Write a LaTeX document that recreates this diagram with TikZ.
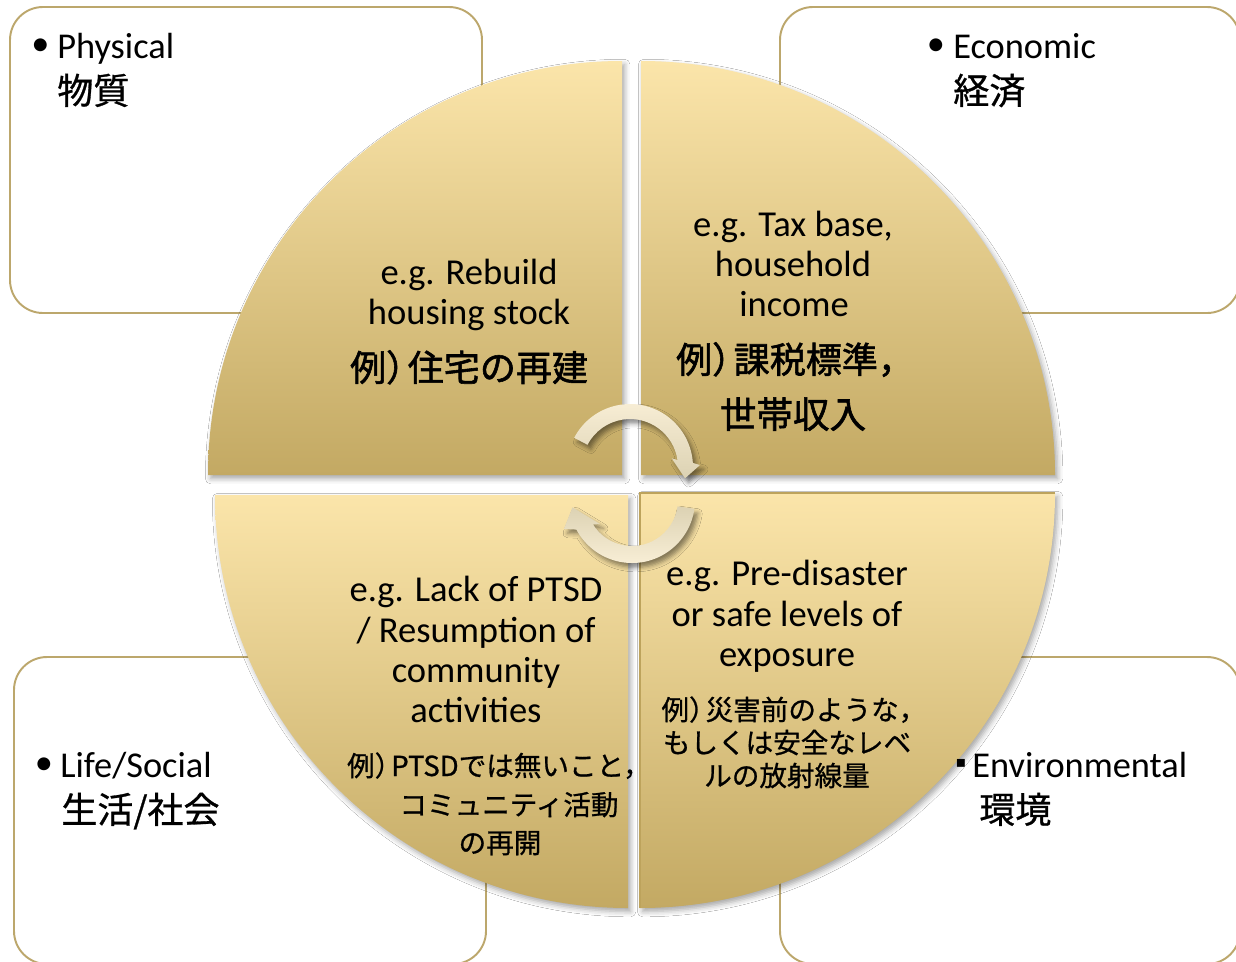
\documentclass[tikz,border=0pt]{standalone}
\usepackage{fontspec}
\setmainfont{Carlito}
\newfontfamily\jp[FakeBold=0.8]{Noto Sans CJK JP}
\newfontfamily\jpb[FakeBold=1.6]{Noto Sans CJK JP}
\newfontfamily\dv{DejaVu Sans}
\usetikzlibrary{shadows.blur}
\definecolor{boxline}{HTML}{BCA76C}
\definecolor{qlight}{HTML}{FBE5AA}
\definecolor{qdark}{HTML}{C3A963}
\definecolor{qedge}{HTML}{BDA35C}
\definecolor{arlight}{HTML}{FAF0D8}
\definecolor{ardark}{HTML}{DCD2B3}
\newcommand\jrp{）\kern-0.4em}
\newcommand\jcm{，\kern-0.5em}
\begin{document}
\begin{tikzpicture}[x=0.02cm,y=-0.02cm,
  box/.style={draw=boxline, line width=1.1pt, rounded corners=0.66cm, fill=white},
  quad/.style={top color=qlight, bottom color=qdark,
    blur shadow={shadow xshift=1.5pt, shadow yshift=-2pt, shadow blur radius=3pt, shadow opacity=35}},
  arr/.style={blur shadow={shadow xshift=2pt, shadow yshift=-2.5pt, shadow blur radius=2.5pt, shadow opacity=45}},
  lt/.style={font=\fontsize{20.8pt}{25pt}\selectfont, anchor=base, inner sep=0pt},
  jl/.style={font=\jpb\fontsize{20.5pt}{25pt}\selectfont, anchor=base, inner sep=0pt},
  jx/.style={font=\jpb\fontsize{20.8pt}{25pt}\selectfont, anchor=base, inner sep=0pt},
  js/.style={font=\jp\fontsize{15.7pt}{19pt}\selectfont, anchor=base, inner sep=0pt},
  bl/.style={font=\fontsize{20.7pt}{25pt}\selectfont, anchor=base west, inner sep=0pt},
  bj/.style={font=\jp\fontsize{20.5pt}{25pt}\selectfont, anchor=base west, inner sep=0pt},
  bul/.style={font=\fontsize{20.7pt}{25pt}\selectfont, anchor=center, inner sep=0pt}]
\useasboundingbox (0,0) rectangle (1236,961);
\clip (0,0) rectangle (1236,961);
\fill[white] (0,0) rectangle (1236,961);

% outer boxes
\path[box] (10,7) rectangle (482,313);
\path[box] (780,7) rectangle (1240,313);
\path[box] (14,657) rectangle (486,964);
\path[box] (780,657) rectangle (1240,964);

% quadrants
\shade[quad] (622,475) -- (208,475) arc[start angle=180, end angle=270, radius=414] -- cycle;
\shade[quad] (641,475) -- (641,61) arc[start angle=270, end angle=360, radius=414] -- cycle;
\shade[quad] (628,495) -- (628,908) arc[start angle=90, end angle=180, radius=413] -- cycle;
\shade[quad] (640,493) -- (1055,493) arc[start angle=0, end angle=90, radius=415] -- cycle;
\draw[qedge, line width=1.6pt] (640,908) -- (640,493) -- (1055,493);

% circular arrows
\begin{scope}[shift={(630,467)}]
\shade[arr, top color=arlight, bottom color=ardark]
  (207.6:63) arc[start angle=207.6, end angle=356.3, radius=63]
  -- (70,-2) -- (55,11.3) -- (41.7,-8.7)
  -- (351.6:48) arc[start angle=351.6, end angle=207.6, radius=48] -- cycle;
\end{scope}
\begin{scope}[shift={(632,500)}]
\shade[arr, top color=ardark, bottom color=arlight]
  (8:63) arc[start angle=8, end angle=152, radius=63]
  -- (157:74) -- (173:60) -- (143:40)
  -- (148:46) arc[start angle=148, end angle=8, radius=46] -- cycle;
\end{scope}

% box labels
\node[bul] (b1) at (40.5,47.5) {•};
\node[bl] (t1) at (57,58) {Physical};
\node[bj] (j1) at (57,104) {物質};
\node[bul] (b2) at (936,47.5) {•};
\node[bl] (t2) at (953,58) {Economic};
\node[bj] (j2) at (953,104) {経済};
\node[bul] (b3) at (44,766) {•};
\node[bl] (t3) at (60,777) {Life/Social};
\node[bj] (j3) at (61,823) {生活/社会};
\node[font=\dv\fontsize{9pt}{10pt}\selectfont, inner sep=0pt] (b4) at (961,763) {▪};
\node[bl] (t4) at (972,777) {Environmental};
\node[bj] (j4) at (979,823) {環境};

% top-left quadrant text
\node[lt] (q1a) at (469,284) {e.g. Rebuild};
\node[lt] (q1b) at (469,324) {housing stock};
\node[jl] (q1c) at (469,381) {例\jrp 住宅の再建};

% top-right quadrant text
\node[lt] (q2a) at (793,236) {e.g. Tax base,};
\node[lt] (q2b) at (793,276) {household};
\node[lt] (q2c) at (794,316) {income};
\node[jl] (q2d) at (786,373) {例\jrp 課税標準\jcm};
\node[jx] (q2e) at (793,428) {世帯収入};

% bottom-left quadrant text
\node[lt] (q3a) at (476,601) {e.g. Lack of PTSD};
\node[lt] (q3b) at (476,642) {/ Resumption of};
\node[lt] (q3c) at (476,682) {community};
\node[lt] (q3d) at (476,722) {activities};
\node[js] (q3e) at (492,776) {例）\kern-0.4em PTSDでは無いこと\jcm};
\node[js] (q3f) at (509,815) {コミュニティ活動};
\node[js] (q3g) at (500,853) {の再開};

% bottom-right quadrant text
\node[lt] (q4a) at (787,585) {e.g. Pre-disaster};
\node[lt] (q4b) at (787,626) {or safe levels of};
\node[lt] (q4c) at (787,666) {exposure};
\node[js] (q4d) at (787,720) {例\jrp 災害前のような\jcm};
\node[js] (q4e) at (787,753) {もしくは安全なレベ};
\node[js] (q4f) at (787,786) {ルの放射線量};
\end{tikzpicture}
\end{document}
